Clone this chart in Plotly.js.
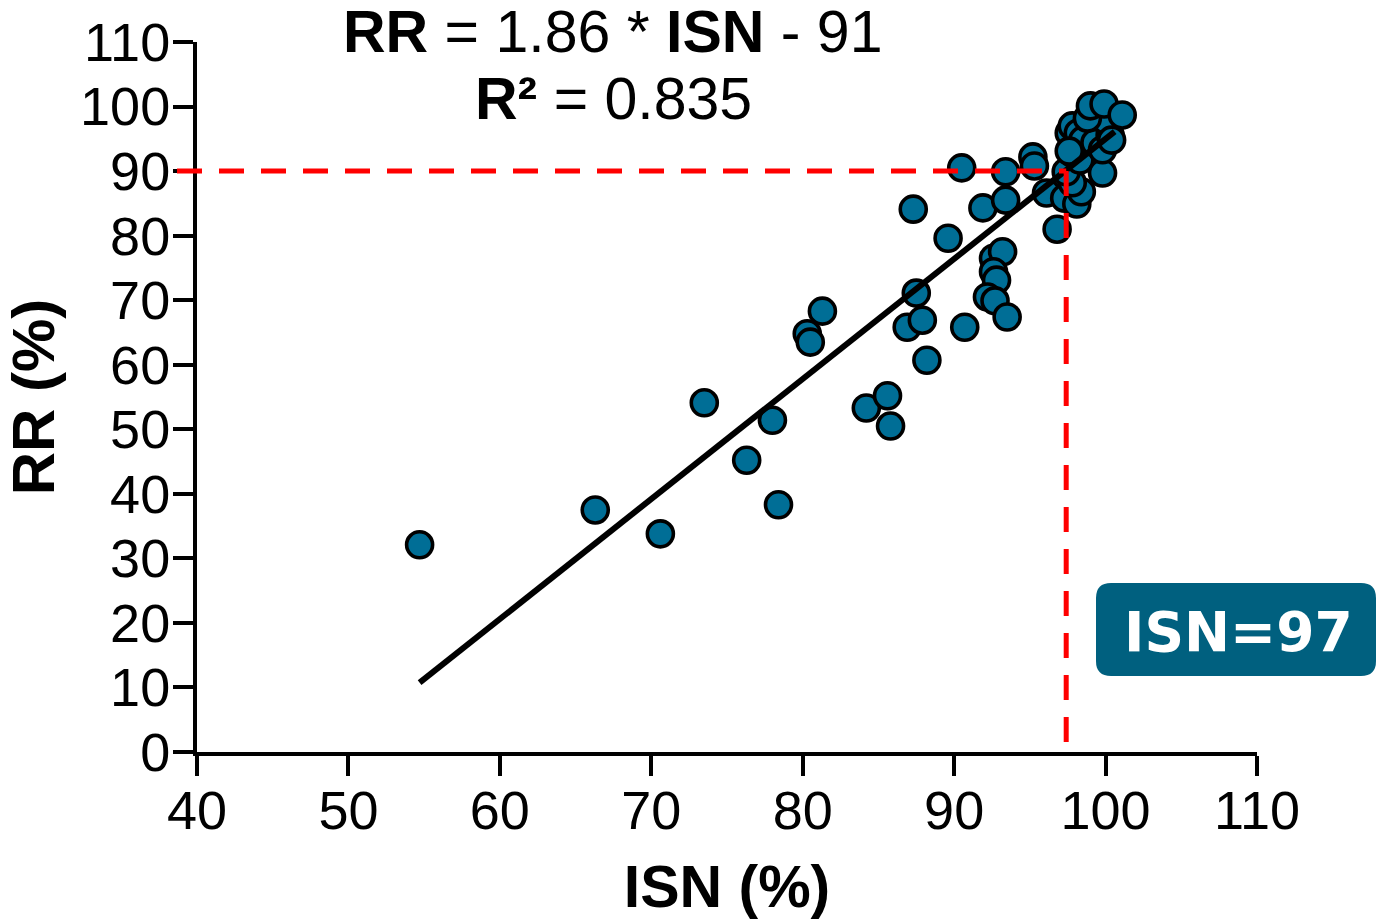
<!DOCTYPE html>
<html>
<head>
<meta charset="utf-8">
<script src="https://cdn.plot.ly/plotly-3.0.1.min.js"></script>
<style>
  html, body { margin: 0; padding: 0; background: #ffffff; }
  #chart { width: 1377px; height: 920px; }
</style>
</head>
<body>
<div id="chart"></div>
<script>
// ---- data ----
const ISN = [54.7, 66.3, 70.6, 73.5, 76.3, 78.0, 78.4, 80.3, 80.5, 81.3,
             84.2, 85.6, 85.8, 87.3, 87.5, 86.9, 87.9, 88.2, 89.6, 90.5,
             90.7, 91.9, 92.6, 93.2, 92.6, 92.8, 92.2, 92.7, 93.5, 93.4,
             93.4, 95.2, 95.3, 96.1, 96.8, 97.3, 98.1, 98.4, 97.8, 97.4,
             97.8, 98.3, 99.8, 97.6, 97.8, 98.2, 98.5, 99.3, 99.8, 100.3,
             100.0, 98.8, 99.0, 99.9, 101.1, 97.6, 100.4];
const RR  = [32.1, 37.5, 33.8, 54.1, 45.2, 51.4, 38.3, 64.8, 63.5, 68.3,
             53.3, 55.2, 50.5, 84.1, 71.1, 65.8, 66.9, 60.7, 79.6, 90.5,
             65.8, 84.3, 76.5, 77.5, 74.4, 73.1, 70.5, 69.9, 67.4, 85.5,
             89.9, 92.2, 90.8, 86.6, 81.0, 85.8, 84.9, 86.8, 88.2, 89.9,
             92.8, 91.7, 89.7, 95.9, 97.0, 95.9, 94.8, 94.4, 93.3, 95.6,
             97.9, 98.2, 100.1, 100.4, 98.7, 93.1, 94.8];

const FIT_SLOPE = 1.86;
const FIT_INTERCEPT = -91;
const FIT_X = [54.7, 100.6];
const FIT_Y = FIT_X.map(function (v) { return FIT_SLOPE * v + FIT_INTERCEPT; });

const THRESH_ISN = 97.4;
const THRESH_RR = 90;

const X_TICKS = [40, 50, 60, 70, 80, 90, 100, 110];
const Y_TICKS = [0, 10, 20, 30, 40, 50, 60, 70, 80, 90, 100, 110];
const X_RANGE = [40, 110];
const Y_RANGE = [0, 110];

const EQ_LINE1 = '<b>RR</b> = 1.86 * <b>ISN</b> - 91';
const EQ_LINE2 = '<b>R²</b> = 0.835';
const BOX_LABEL = 'ISN=97';

// ---- layout geometry (pixels) ----
const W = 1377, H = 920;
const M = { l: 197, r: 120, t: 42, b: 168 };
const PW = W - M.l - M.r, PH = H - M.t - M.b;
function px2paperX(px) { return (px - M.l) / PW; }
function py2paperY(py) { return (H - M.b - py) / PH; }
function data2paperX(v) { return (v - X_RANGE[0]) / (X_RANGE[1] - X_RANGE[0]); }

// rounded box path in paper coords
function roundedBox(x0, y0, x1, y1, r) {
  const X = px2paperX, Y = py2paperY;
  return 'M ' + X(x0 + r) + ',' + Y(y0) +
    ' L ' + X(x1 - r) + ',' + Y(y0) +
    ' Q ' + X(x1) + ',' + Y(y0) + ' ' + X(x1) + ',' + Y(y0 + r) +
    ' L ' + X(x1) + ',' + Y(y1 - r) +
    ' Q ' + X(x1) + ',' + Y(y1) + ' ' + X(x1 - r) + ',' + Y(y1) +
    ' L ' + X(x0 + r) + ',' + Y(y1) +
    ' Q ' + X(x0) + ',' + Y(y1) + ' ' + X(x0) + ',' + Y(y1 - r) +
    ' L ' + X(x0) + ',' + Y(y0 + r) +
    ' Q ' + X(x0) + ',' + Y(y0) + ' ' + X(x0 + r) + ',' + Y(y0) + ' Z';
}

const FONT = 'Arial, "Liberation Sans", sans-serif';

const traces = [
  {
    type: 'scatter', mode: 'markers',
    x: ISN, y: RR,
    marker: { size: 26, color: '#006e96', line: { color: '#000000', width: 3.6 } },
    cliponaxis: false,
    hoverinfo: 'x+y'
  },
  {
    type: 'scatter', mode: 'lines',
    x: FIT_X, y: FIT_Y,
    line: { color: '#000000', width: 6 },
    hoverinfo: 'skip'
  }
];

const layout = {
  width: W, height: H,
  margin: M,
  paper_bgcolor: '#ffffff',
  plot_bgcolor: '#ffffff',
  showlegend: false,
  font: { family: FONT, color: '#000000' },
  xaxis: {
    range: X_RANGE,
    tickvals: X_TICKS,
    ticktext: X_TICKS.map(String),
    showgrid: false, zeroline: false,
    showline: true, linecolor: '#000000', linewidth: 4,
    ticks: 'outside', ticklen: 20, tickwidth: 4, tickcolor: '#000000',
    ticklabelstandoff: -12,
    tickfont: { family: FONT, size: 54, color: '#000000' },
    title: { text: '<b>ISN (%)</b>', font: { family: FONT, size: 59, color: '#000000' }, standoff: 30 },
    fixedrange: true
  },
  yaxis: {
    range: Y_RANGE,
    tickvals: Y_TICKS,
    ticktext: Y_TICKS.map(String),
    showgrid: false, zeroline: false,
    showline: true, linecolor: '#000000', linewidth: 4,
    ticks: 'outside', ticklen: 20, tickwidth: 4, tickcolor: '#000000',
    ticklabelstandoff: -8,
    tickfont: { family: FONT, size: 54, color: '#000000' },
    title: { text: '<b>RR (%)</b>', font: { family: FONT, size: 60, color: '#000000' }, standoff: 36 },
    fixedrange: true
  },
  shapes: [
    {
      type: 'line', layer: 'above',
      xref: 'paper', yref: 'y',
      x0: px2paperX(M.l - 20), x1: data2paperX(THRESH_ISN),
      y0: THRESH_RR, y1: THRESH_RR,
      line: { color: '#ff0000', width: 5, dash: '25px,17px' }
    },
    {
      type: 'line', layer: 'above',
      xref: 'x', yref: 'y',
      x0: THRESH_ISN, x1: THRESH_ISN,
      y0: THRESH_RR, y1: Y_RANGE[0],
      line: { color: '#ff0000', width: 5, dash: '25px,17px' }
    },
    {
      type: 'path', layer: 'above',
      xref: 'paper', yref: 'paper',
      path: roundedBox(1096, 583, 1376, 676, 15),
      fillcolor: '#00607f',
      line: { width: 0 }
    }
  ],
  annotations: [
    {
      xref: 'paper', yref: 'paper',
      x: px2paperX(612), y: py2paperY(32),
      xanchor: 'center', yanchor: 'middle',
      text: EQ_LINE1, showarrow: false,
      font: { family: FONT, size: 59, color: '#000000' }
    },
    {
      xref: 'paper', yref: 'paper',
      x: px2paperX(613), y: py2paperY(99),
      xanchor: 'center', yanchor: 'middle',
      text: EQ_LINE2, showarrow: false,
      font: { family: FONT, size: 59, color: '#000000' }
    },
    {
      xref: 'paper', yref: 'paper',
      x: px2paperX(1238), y: py2paperY(632),
      xanchor: 'center', yanchor: 'middle',
      text: '<b>' + BOX_LABEL + '</b>', showarrow: false,
      font: { family: 'Verdana, "DejaVu Sans", sans-serif', size: 55, color: '#ffffff' }
    }
  ]
};

Plotly.newPlot('chart', traces, layout, { displayModeBar: false, staticPlot: true });
</script>
</body>
</html>
